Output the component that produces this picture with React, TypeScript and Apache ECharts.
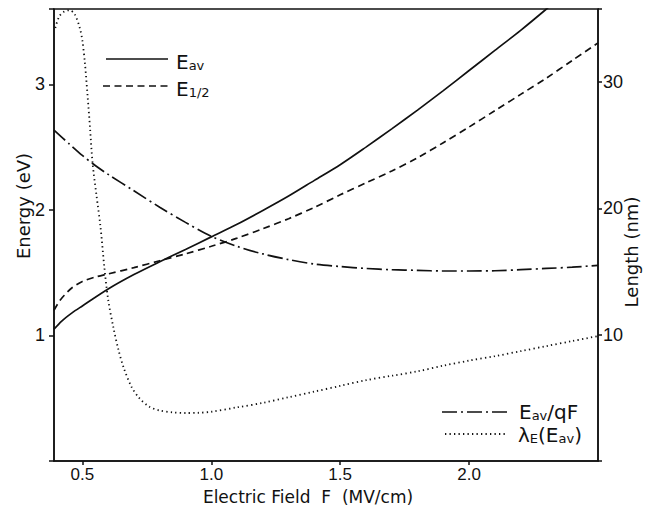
import React, { useEffect, useRef } from "react";
import * as echarts from "echarts";

// Electric field F (MV/cm) and curve values
const fieldEav = [0.39, 0.42, 0.46, 0.5, 0.6, 0.7, 0.8, 0.9, 1.0, 1.1, 1.2, 1.3, 1.4, 1.5, 1.6, 1.7, 1.8, 1.9, 2.0, 2.1, 2.2, 2.3, 2.35];
const eavValues = [1.05, 1.115, 1.18, 1.235, 1.37, 1.485, 1.587, 1.685, 1.785, 1.885, 1.995, 2.11, 2.235, 2.36, 2.5, 2.645, 2.795, 2.95, 3.11, 3.27, 3.43, 3.6, 3.69];

const fieldEhalf = [0.39, 0.41, 0.43, 0.46, 0.5, 0.55, 0.6, 0.7, 0.8, 0.9, 1.0, 1.1, 1.2, 1.3, 1.4, 1.5, 1.6, 1.7, 1.8, 1.9, 2.0, 2.1, 2.2, 2.3, 2.4, 2.5];
const ehalfValues = [1.2, 1.27, 1.32, 1.38, 1.43, 1.465, 1.49, 1.54, 1.595, 1.65, 1.71, 1.775, 1.85, 1.93, 2.02, 2.12, 2.215, 2.31, 2.415, 2.535, 2.66, 2.79, 2.92, 3.05, 3.19, 3.33];

const fieldRatio = [0.39, 0.45, 0.5, 0.55, 0.6, 0.7, 0.8, 0.9, 1.0, 1.1, 1.2, 1.3, 1.4, 1.5, 1.6, 1.7, 1.8, 1.9, 2.0, 2.1, 2.2, 2.3, 2.4, 2.5];
const ratioValues = [26.2, 25.1, 24.2, 23.4, 22.7, 21.4, 20.1, 18.9, 17.8, 17.0, 16.4, 15.95, 15.6, 15.4, 15.25, 15.15, 15.1, 15.05, 15.05, 15.07, 15.15, 15.25, 15.35, 15.5];

const fieldLambda = [0.395, 0.41, 0.43, 0.45, 0.47, 0.49, 0.5, 0.51, 0.52, 0.53, 0.54, 0.555, 0.57, 0.585, 0.6, 0.62, 0.64, 0.66, 0.69, 0.72, 0.76, 0.8, 0.85, 0.9, 0.95, 1.0, 1.1, 1.2, 1.3, 1.4, 1.5, 1.6, 1.7, 1.8, 1.9, 2.0, 2.1, 2.2, 2.3, 2.4, 2.5];
const lambdaValues = [34.3, 35.2, 35.6, 35.7, 35.4, 34.3, 33.3, 31.5, 29.0, 26.3, 23.5, 21.0, 18.6, 15.4, 12.8, 10.6, 8.8, 7.4, 5.9, 5.0, 4.3, 4.0, 3.85, 3.8, 3.82, 3.9, 4.25, 4.6, 5.05, 5.5, 5.95, 6.4, 6.75, 7.1, 7.55, 7.95, 8.3, 8.7, 9.1, 9.5, 9.9];

const xTicks = [0.5, 1.0, 1.5, 2.0];

const pairs = (xs: number[], ys: number[]) => xs.map((x, i) => [x, ys[i]]);

const INK = "#111";
const TICK_FONT = "Liberation Sans";
const TITLE_FONT = "DejaVu Sans";

const rich = {
  m: { fontSize: 20, lineHeight: 24, verticalAlign: "bottom", fill: INK, fontFamily: TITLE_FONT },
  s: { fontSize: 13, lineHeight: 13, verticalAlign: "bottom", fill: INK, fontFamily: TITLE_FONT },
};

const lineSeries = (name: string, axis: number, xs: number[], ys: number[], type: any, width: number) => ({
  name,
  type: "line",
  yAxisIndex: axis,
  data: pairs(xs, ys),
  showSymbol: false,
  smooth: 0.3,
  lineStyle: { color: INK, width, type },
});

export default function App() {
  const ref = useRef<HTMLDivElement>(null);
  useEffect(() => {
    const chart = echarts.init(ref.current!, null, { renderer: "svg" });
    const option: any = {
      animation: false,
      backgroundColor: "#fff",
      grid: { left: 54, right: 55, top: 9, bottom: 45, show: true, borderColor: INK, borderWidth: 1.5, backgroundColor: "transparent" },
      xAxis: {
        type: "value",
        min: 0.39,
        max: 2.5,
        axisLine: { show: true, lineStyle: { color: INK, width: 1.5 } },
        axisTick: { show: true, customValues: xTicks, length: 4, lineStyle: { color: INK, width: 1.5 } },
        axisLabel: { customValues: xTicks, formatter: (v: number) => v.toFixed(1), color: INK, fontSize: 17, fontFamily: TICK_FONT, margin: 5 },
        splitLine: { show: false },
      },
      yAxis: [
        {
          type: "value",
          min: 0,
          max: 3.6,
          interval: 1,
          axisLine: { show: true, lineStyle: { color: INK, width: 1.5 } },
          axisTick: { show: true, length: 5, lineStyle: { color: INK, width: 1.5 } },
          axisLabel: { formatter: (v: number) => (v > 0 && Number.isInteger(v) ? String(v) : ""), color: INK, fontSize: 18, fontFamily: TICK_FONT, margin: 9 },
          splitLine: { show: false },
        },
        {
          type: "value",
          min: 0,
          max: 35.8,
          interval: 10,
          position: "right",
          axisLine: { show: true, lineStyle: { color: INK, width: 1.5 } },
          axisTick: { show: true, length: 4, lineStyle: { color: INK, width: 1.5 } },
          axisLabel: { formatter: (v: number) => (v > 0 && v % 10 === 0 ? String(v) : ""), color: INK, fontSize: 18, fontFamily: TICK_FONT, margin: 5 },
          splitLine: { show: false },
        },
      ],
      series: [
        lineSeries("Eav", 0, fieldEav, eavValues, "solid", 1.7),
        lineSeries("E1/2", 0, fieldEhalf, ehalfValues, [7, 4.5], 1.7),
        lineSeries("Eav/qF", 1, fieldRatio, ratioValues, [15, 4, 2, 4], 1.7),
        lineSeries("lambda", 1, fieldLambda, lambdaValues, [1.3, 3.2], 1.8),
      ],
      graphic: [
        // axis titles
        { type: "text", x: 23, y: 206, rotation: Math.PI / 2, style: { text: "Energy (eV)", fill: INK, fontSize: 18, fontFamily: TITLE_FONT, align: "center", verticalAlign: "middle" } },
        { type: "text", x: 631, y: 252, rotation: Math.PI / 2, style: { text: "Length (nm)", fill: INK, fontSize: 18, fontFamily: TITLE_FONT, align: "center", verticalAlign: "middle" } },
        { type: "text", x: 308, y: 497, style: { text: "Electric Field  F  (MV/cm)", fill: INK, fontSize: 17, fontFamily: TITLE_FONT, align: "center", verticalAlign: "middle" } },
        // legend top-left
        { type: "line", shape: { x1: 106, y1: 59, x2: 168, y2: 59 }, style: { stroke: INK, lineWidth: 1.7 } },
        { type: "text", x: 176, y: 60, style: { text: "{m|E}{s|av}", rich, verticalAlign: "middle", align: "left" } },
        { type: "line", shape: { x1: 103, y1: 86, x2: 168, y2: 86 }, style: { stroke: INK, lineWidth: 1.7, lineDash: [7, 4.5] } },
        { type: "text", x: 176, y: 87, style: { text: "{m|E}{s|1/2}", rich, verticalAlign: "middle", align: "left" } },
        // legend bottom-right
        { type: "line", shape: { x1: 442, y1: 412, x2: 508, y2: 412 }, style: { stroke: INK, lineWidth: 1.7, lineDash: [15, 4, 2, 4] } },
        { type: "text", x: 519, y: 410, style: { text: "{m|E}{s|av}{m|/qF}", rich, verticalAlign: "middle", align: "left" } },
        { type: "line", shape: { x1: 445, y1: 434, x2: 507, y2: 434 }, style: { stroke: INK, lineWidth: 1.8, lineDash: [1.3, 3.2] } },
        { type: "text", x: 518, y: 433, style: { text: "{m|λ}{s|E}{m|(E}{s|av}{m|)}", rich, verticalAlign: "middle", align: "left" } },
      ],
    };
    chart.setOption(option);
    return () => chart.dispose();
  }, []);
  return <div ref={ref} style={{ position: "fixed", left: 0, top: 0, width: 653, height: 506 }} />;
}
